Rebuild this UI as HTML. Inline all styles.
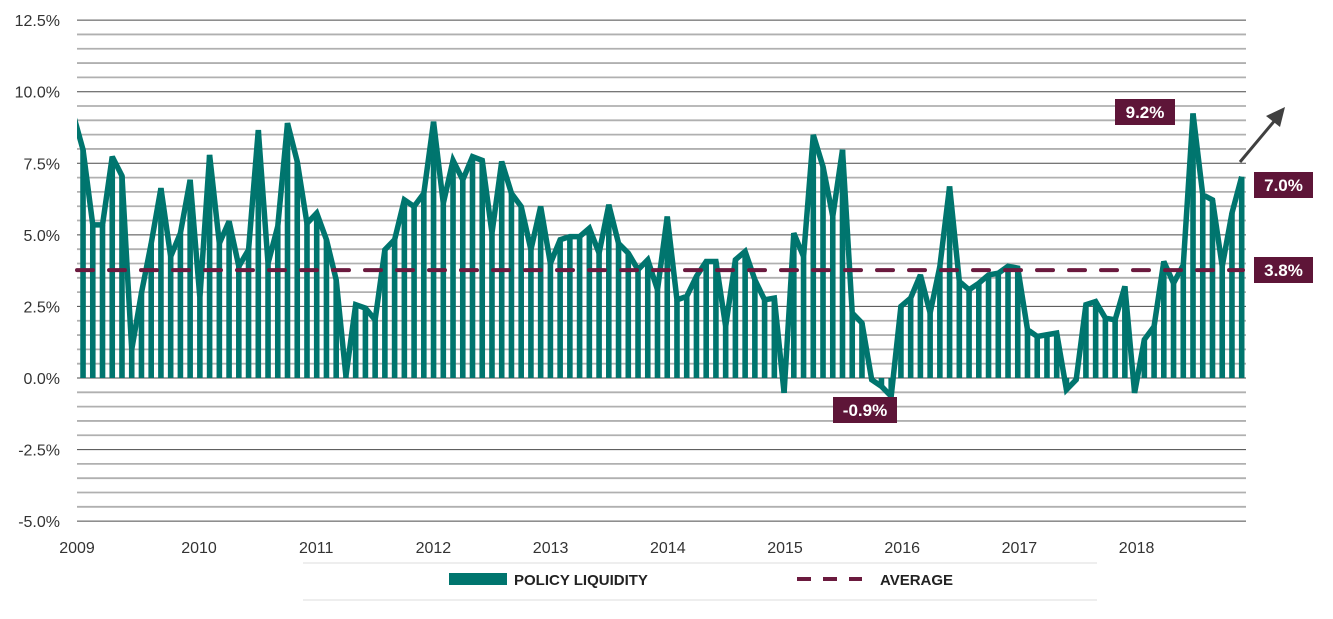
<!DOCTYPE html>
<html><head><meta charset="utf-8"><style>
body{margin:0;background:#fff;width:1333px;height:619px;overflow:hidden;font-family:"Liberation Sans",sans-serif}
svg{display:block}
</style></head><body>
<svg id="chart" width="1333" height="619"></svg>
<script>
const years=["2009","2010","2011","2012","2013","2014","2015","2016","2017","2018"];
const yTicks=[12.5,10,7.5,5,2.5,0,-2.5,-5];
const policyLiquidity=[9.2,7.97,5.35,5.35,7.73,7.06,0.99,2.97,4.7,6.63,4.24,5.06,6.92,2.8,7.79,4.7,5.47,3.9,4.48,8.66,4.0,5.3,8.9,7.56,5.4,5.76,4.83,3.43,0.06,2.56,
2.44,2.03,4.48,4.83,6.22,5.99,6.45,8.95,6.1,7.6,6.92,7.73,7.6,5.06,7.56,6.45,5.99,4.48,5.99,4.0,4.83,4.94,4.94,5.23,4.36,6.05,4.7,4.36,3.78,4.13,
3.08,5.64,2.73,2.85,3.55,4.07,4.07,1.8,4.13,4.42,3.43,2.73,2.79,-0.52,5.06,4.24,8.49,7.38,5.64,7.97,2.27,1.92,-0.06,-0.29,-0.64,2.5,2.79,3.6,2.27,3.9,
6.69,3.37,3.08,3.31,3.6,3.66,3.9,3.84,1.69,1.45,1.51,1.57,-0.41,-0.06,2.56,2.67,2.09,2.03,3.2,-0.52,1.34,1.8,4.07,3.31,3.95,9.24,6.4,6.22,3.9,5.76,7.03];
const averageValue=[3.77];

const NS="http://www.w3.org/2000/svg";
const svg=document.getElementById('chart');
const L=77,R=1246;
function y(v){return 378-v*28.63;}
const x0=73.3,x1=1241.7;
function x(i){return x0+i*(x1-x0)/(policyLiquidity.length-1);}
function el(t,a,p){const e=document.createElementNS(NS,t);for(const k in a)e.setAttribute(k,a[k]);(p||svg).appendChild(e);return e;}

for(let v=-5;v<=12.51;v+=0.5){
  const major=Math.abs(v/2.5-Math.round(v/2.5))<1e-6;
  const g=el('line',{x1:L,x2:R,y1:y(v),y2:y(v),stroke:major?'#4a4a4a':'#b0b0b0','stroke-width':major?1:1.8});
  
  
}
yTicks.forEach(v=>{
  const t=el('text',{x:60,y:y(v)+6,'text-anchor':'end','font-size':16,fill:'#333'});
  t.textContent=v.toFixed(1)+'%';
  
  
});
years.forEach((yr,k)=>{
  const px=k===0?77:199+(k-1)*117.2;
  const t=el('text',{x:px,y:553,'text-anchor':'middle','font-size':16,fill:'#333'});
  t.textContent=yr;
  
  
});
const clip=el('clipPath',{id:'cp'});el('rect',{x:L,y:0,width:R-L+2,height:619},clip);
const gp=el('g',{'clip-path':'url(#cp)'});


policyLiquidity.forEach((v,i)=>{
  const b=el('rect',{x:x(i)-2.8,y:Math.min(y(v),y(0)),width:5.6,height:Math.abs(y(v)-y(0)),fill:'#00756e'},gp);
  
  
});
const ln=el('polyline',{points:policyLiquidity.map((v,i)=>x(i)+','+y(v)).join(' '),fill:'none',stroke:'#00756e','stroke-width':5.5,'stroke-linejoin':'miter','stroke-miterlimit':3},gp);


const av=el('line',{x1:L,x2:1243,y1:y(averageValue[0]),y2:y(averageValue[0]),stroke:'#6b1a3e','stroke-width':4,'stroke-dasharray':'16 16','stroke-linecap':'round'});



function badge(bx,by,w,txt,name){
  const g=el('g',{});
  
  
  el('rect',{x:bx,y:by,width:w,height:26,fill:'#5e1538'},g);
  const t=el('text',{x:bx+w/2,y:by+19,'text-anchor':'middle','font-size':17,fill:'#fff','font-weight':'bold'},g);
  t.textContent=txt;
}
badge(1115,99,60,'9.2%','peak-label');
badge(1254,172,59,'7.0%','latest-label');
badge(1254,257,59,'3.8%','average-label');
badge(833,397,64,'-0.9%','low-label');
const ar=el('g',{});


el('line',{x1:1240,y1:162,x2:1276,y2:119,stroke:'#404040','stroke-width':3},ar);
el('polygon',{points:'1285,107 1266,116 1280,127',fill:'#404040'},ar);

const lg=el('g',{});


el('line',{x1:303,x2:1097,y1:563,y2:563,stroke:'#ddd','stroke-width':1},lg);
el('line',{x1:303,x2:1097,y1:600,y2:600,stroke:'#ddd','stroke-width':1},lg);
el('rect',{x:449,y:573,width:58,height:12,fill:'#00756e'},lg);
const t1=el('text',{x:514,y:585,'font-size':15,'font-weight':'bold',fill:'#222'},lg);t1.textContent='POLICY LIQUIDITY';


el('line',{x1:797,x2:862,y1:579,y2:579,stroke:'#6b1a3e','stroke-width':4,'stroke-dasharray':'14 12'},lg);
const t2=el('text',{x:880,y:585,'font-size':15,'font-weight':'bold',fill:'#222'},lg);t2.textContent='AVERAGE';


</script>
</body></html>
